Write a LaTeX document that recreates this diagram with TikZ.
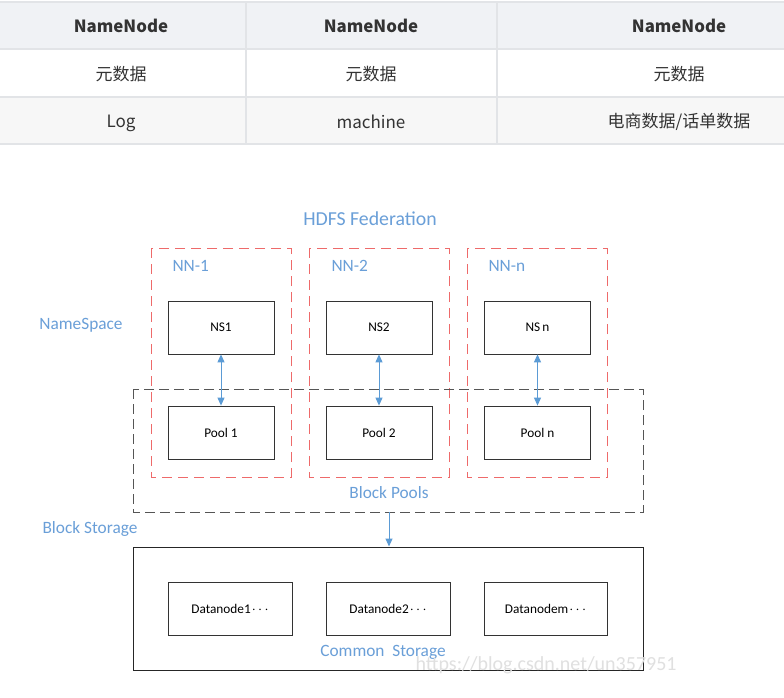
\documentclass[tikz,border=0pt]{standalone}
\usepackage{fontspec}
\setmainfont{Carlito}
\newfontfamily\cjk{Noto Sans CJK SC}
\usetikzlibrary{arrows.meta}
\definecolor{hdrbg}{HTML}{F0F2F5}
\definecolor{rowbg}{HTML}{F7F7F7}
\definecolor{gridc}{HTML}{E2E4E7}
\definecolor{tabtxt}{HTML}{333333}
\definecolor{lblue}{HTML}{6A9FD8}
\definecolor{ablue}{HTML}{5B9BD5}
\definecolor{dred}{HTML}{EE6A6A}
\definecolor{dgray}{HTML}{555555}
\tikzset{
  cell/.style={font=\cjk\fontsize{17}{20}\selectfont, text=tabtxt, anchor=center},
  hcell/.style={cell, font=\cjk\bfseries\fontsize{16.8}{20}\selectfont},
  bluelbl/.style={text=lblue, font=\fontsize{17.3}{20}\selectfont},
  inbox/.style={draw=black!80, line width=0.8pt, minimum width=#1, minimum height=53pt, inner sep=0pt, font=\fontsize{13.3}{15}\selectfont},
  inbox/.default=106pt,
  reddash/.style={draw=dred, line width=0.9pt, dash pattern=on 10pt off 6pt},
  graydash/.style={draw=dgray, line width=0.9pt, dash pattern=on 10pt off 5pt},
  barrow/.style={draw=ablue, line width=1pt, -{Triangle[length=8pt,width=7pt]}},
  darrow/.style={draw=ablue, line width=1pt, {Triangle[length=8pt,width=7pt]}-{Triangle[length=8pt,width=7pt]}}
}
\begin{document}
\begin{tikzpicture}[x=1pt,y=-1pt]
\useasboundingbox (0,0) rectangle (784,698);
\fill[white] (0,0) rectangle (784,698);
% ---------- table ----------
\fill[hdrbg] (0,2) rectangle (784,49);
\fill[rowbg] (0,97) rectangle (784,144);
\draw[gridc, line width=1.2pt] (0,2) -- (784,2);
\draw[gridc, line width=1.2pt] (0,49) -- (784,49);
\draw[gridc, line width=1.2pt] (0,97) -- (784,97);
\draw[gridc, line width=1.2pt] (0,144) -- (784,144);
\draw[gridc, line width=1.2pt] (246,2) -- (246,144);
\draw[gridc, line width=1.2pt] (497,2) -- (497,144);
\node[hcell] (h1) at (121,26) {NameNode};
\node[hcell] (h2) at (371,26) {NameNode};
\node[hcell] (h3) at (679,26) {NameNode};
\node[cell] (r11) at (121,74) {元数据};
\node[cell] (r12) at (371,74) {元数据};
\node[cell] (r13) at (679,74) {元数据};
\node[cell] (r21) at (121,123) {Log};
\node[cell] (r22) at (371,122) {machine};
\node[cell] (r23) at (679,122) {电商数据/话单数据};
% ---------- diagram ----------
\node[bluelbl, font=\fontsize{19.8}{23}\selectfont] (title) at (370,219) {HDFS Federation};
% red dashed namenode groups
\draw[reddash] (151,248) rectangle (291,477);
\draw[reddash] (309,248) rectangle (449,477);
\draw[reddash] (467,248) rectangle (607,477);
\node[bluelbl, anchor=west] (nn1) at (169,266) {NN-1};
\node[bluelbl, anchor=west] (nn2) at (328,266) {NN-2};
\node[bluelbl, anchor=west] (nnn) at (485,266) {NN-n};
% block pools dashed box
\draw[graydash] (133,389) rectangle (643,512);
\coordinate (bpb) at (389,512);
\node[bluelbl] (bp) at (389,493) {Block Pools};
% side labels
\node[bluelbl] (nsl) at (81,325) {NameSpace};
\node[bluelbl] (bsl) at (90,529) {Block Storage};
% NS boxes
\node[inbox] (ns1) at (221,327.5) {NS1};
\node[inbox] (ns2) at (379,327.5) {NS2};
\node[inbox] (nsn) at (537.5,327.5) {NS\,n};
% Pool boxes
\node[inbox] (p1) at (221,432.5) {Pool 1};
\node[inbox] (p2) at (379,432.5) {Pool 2};
\node[inbox] (pn) at (537.5,432.5) {Pool n};
\draw[darrow] (ns1) -- (p1);
\draw[darrow] (ns2) -- (p2);
\draw[darrow] (nsn) -- (pn);
% storage
\node[draw=black!85, line width=1pt, minimum width=510pt, minimum height=123pt, inner sep=0pt] (cs) at (388,608.5) {};
\draw[barrow] (bpb) -- (cs.north -| bpb);
\node[inbox=124pt] (d1) at (230,609) {Datanode1\kern1pt$\cdots$};
\node[inbox=124pt] (d2) at (388,609) {Datanode2\kern1pt$\cdots$};
\node[inbox=123pt] (dm) at (545.5,609) {Datanodem\kern1pt$\cdots$};
\node[bluelbl] (csl) at (383,652) {Common\ \ Storage};
% watermark
\node[text=black!12, font=\fontsize{20}{23}\selectfont, anchor=west] (wm) at (412,665) {https://blog.csdn.net/un357951};
\end{tikzpicture}
\end{document}
